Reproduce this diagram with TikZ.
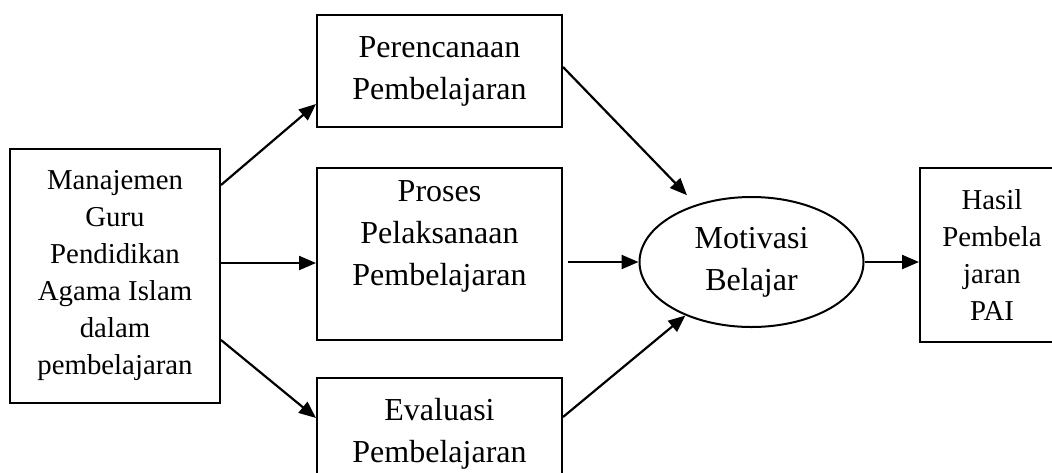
\documentclass[tikz,border=0pt]{standalone}
\usepackage{fontspec}
\setmainfont{Liberation Serif}
\usepackage{tikz}
\usetikzlibrary{arrows.meta,shapes.geometric}
\tikzstyle{arrow} = [-{Triangle[length=8.5pt,width=7pt]},line width=1.1pt]
\tikzstyle{stage} = [draw,line width=1pt,align=center,inner sep=0pt,minimum width=122.5pt,font=\fontsize{16}{21}\selectfont]
\tikzstyle{side} = [draw,line width=1pt,align=center,inner sep=0pt,font=\fontsize{14.4}{18.5}\selectfont]

\begin{document}
\begin{tikzpicture}[x=0.5pt,y=-0.5pt]
      \clip (0,0) rectangle (1052,472);

      \node[side] [minimum width=105pt, minimum height=127pt] (manajemen) at (115, 276) {Manajemen\\Guru\\Pendidikan\\Agama Islam\\dalam\\pembelajaran};
      \node[stage] [minimum height=56pt] (perencanaan) at (439.5, 71) {Perencanaan\\Pembelajaran};
      \node[stage] [minimum height=86pt] (proses) at (439.5, 254) {Proses\\Pelaksanaan\\Pembelajaran\\\mbox{}};
      \node[stage] [minimum height=56pt] (evaluasi) at (439.5, 434) {Evaluasi\\Pembelajaran};
      \node[draw, ellipse, line width=1pt, inner sep=0pt, minimum width=112pt, minimum height=65pt, align=center, font=\fontsize{16}{20}\selectfont] (motivasi) at (751.5, 262) {Motivasi\\[1pt]Belajar};
      \node[side] [minimum width=72pt, minimum height=87pt] (hasil) at (992, 255) {Hasil\\Pembela\\jaran\\PAI};

      \draw[arrow] (manajemen.east |- 0,185) -- (perencanaan.west |- 0,104);
      \draw[arrow] (manajemen.east |- 0,263) -- (proses.west |- 0,263);
      \draw[arrow] (manajemen.east |- 0,340) -- (evaluasi.west |- 0,418);
      \draw[arrow, shorten >=6.5pt] (perencanaan.east |- 0,67) -- (motivasi.134);
      \draw[arrow, shorten <=2.5pt] (proses.east |- motivasi.west) -- (motivasi.west);
      \draw[arrow] (evaluasi.east |- 0,417) -- (motivasi.219);
      \draw[arrow] (motivasi.east) -- (hasil.west |- motivasi.east);
    \end{tikzpicture}
\end{document}
